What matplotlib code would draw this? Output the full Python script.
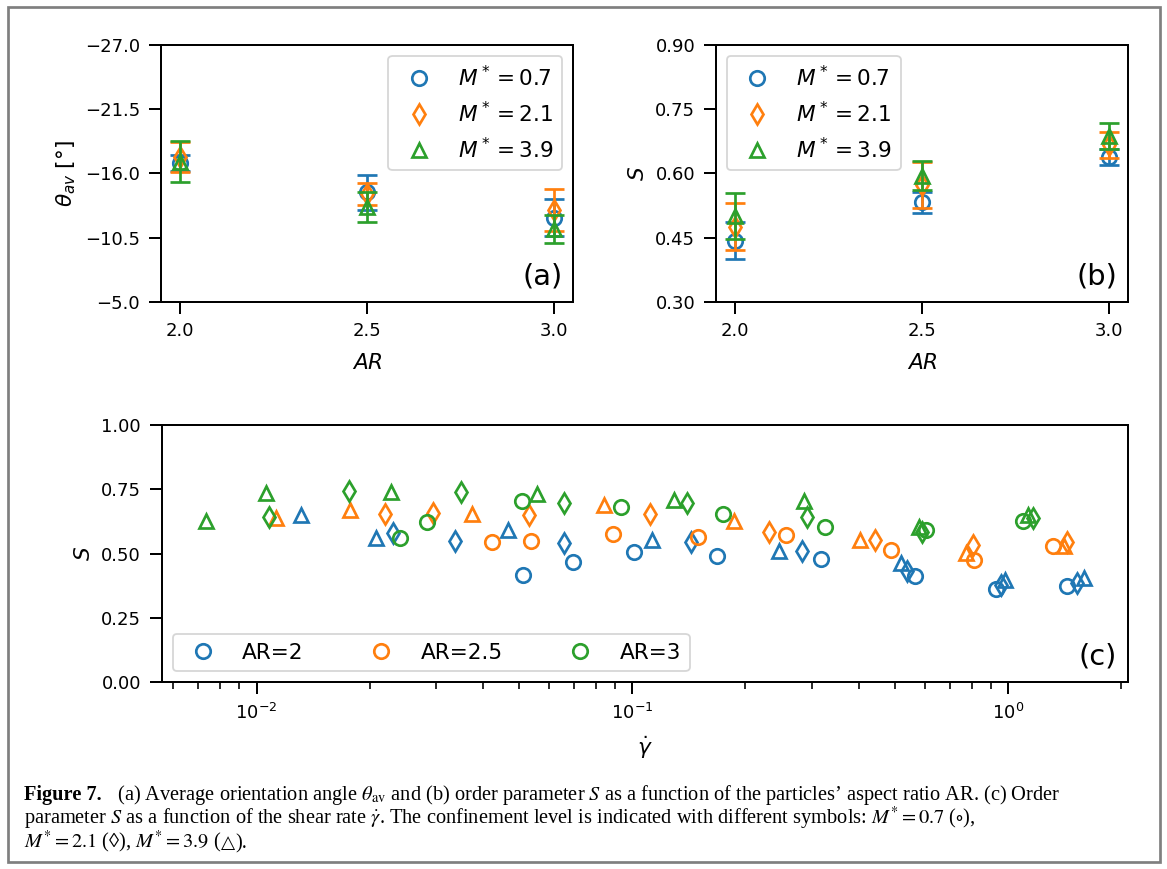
import matplotlib
matplotlib.use("Agg")
import matplotlib.pyplot as plt
from matplotlib.patches import Rectangle

# ---- data ----
ar = [2.0, 2.5, 3.0]
m_labels = [r"$M^*=0.7$", r"$M^*=2.1$", r"$M^*=3.9$"]
markers = ["o", "d", "^"]
colors = ["#1f77b4", "#ff7f0e", "#2ca02c"]

# (a) average orientation angle
theta_m07 = [-16.9, -14.4, -12.2]
theta_m21 = [-17.4, -14.2, -12.85]
theta_m39 = [-17.0, -13.1, -11.2]
theta_err_m07 = [0.7, 1.5, 1.6]
theta_err_m21 = [1.3, 0.95, 1.8]
theta_err_m39 = [1.75, 1.3, 1.2]

# (b) order parameter vs AR
s_m07 = [0.443, 0.532, 0.638]
s_m21 = [0.475, 0.573, 0.666]
s_m39 = [0.500, 0.594, 0.687]
s_err_m07 = [0.043, 0.024, 0.018]
s_err_m21 = [0.055, 0.054, 0.031]
s_err_m39 = [0.053, 0.034, 0.031]

# (c) order parameter vs shear rate, per AR and confinement
gd_ar2_m07 = [0.0511, 0.0695, 0.101, 0.168, 0.318, 0.564, 0.927, 1.438]
s_ar2_m07 = [0.418, 0.466, 0.505, 0.489, 0.479, 0.412, 0.361, 0.374]
gd_ar2_m21 = [0.0231, 0.0337, 0.0658, 0.1436, 0.2835, 0.537, 0.956, 1.529]
s_ar2_m21 = [0.582, 0.551, 0.541, 0.547, 0.509, 0.431, 0.380, 0.387]
gd_ar2_m39 = [0.0131, 0.0208, 0.0467, 0.113, 0.2456, 0.518, 0.979, 1.592]
s_ar2_m39 = [0.651, 0.561, 0.593, 0.554, 0.509, 0.464, 0.399, 0.406]

gd_ar25_m07 = [0.0422, 0.0538, 0.0888, 0.1495, 0.256, 0.489, 0.811, 1.312]
s_ar25_m07 = [0.545, 0.550, 0.576, 0.563, 0.573, 0.515, 0.477, 0.528]
gd_ar25_m21 = [0.0220, 0.0294, 0.0531, 0.1111, 0.2312, 0.4416, 0.8085, 1.438]
s_ar25_m21 = [0.655, 0.657, 0.651, 0.655, 0.586, 0.554, 0.535, 0.547]
gd_ar25_m39 = [0.0113, 0.0177, 0.0375, 0.084, 0.1864, 0.4036, 0.7745, 1.409]
s_ar25_m39 = [0.638, 0.670, 0.655, 0.689, 0.625, 0.554, 0.503, 0.528]

gd_ar3_m07 = [0.0241, 0.0284, 0.0509, 0.0931, 0.1738, 0.325, 0.6035, 1.098]
s_ar3_m07 = [0.561, 0.624, 0.705, 0.680, 0.655, 0.602, 0.590, 0.625]
gd_ar3_m21 = [0.0108, 0.0176, 0.0349, 0.0658, 0.1396, 0.2923, 0.588, 1.165]
s_ar3_m21 = [0.642, 0.745, 0.738, 0.696, 0.696, 0.644, 0.586, 0.638]
gd_ar3_m39 = [0.00732, 0.01057, 0.02286, 0.0556, 0.129, 0.2858, 0.579, 1.126]
s_ar3_m39 = [0.625, 0.735, 0.738, 0.731, 0.709, 0.705, 0.605, 0.651]

ar_labels = ["AR=2", "AR=2.5", "AR=3"]

plt.rcParams["mathtext.fontset"] = "dejavusans"
plt.rcParams["axes.linewidth"] = 1.1

W, H = 1167, 869
fig = plt.figure(figsize=(W / 130, H / 130), dpi=130)

ax_a = fig.add_axes([161 / W, 1 - 301.7 / H, 412 / W, 256.7 / H])
ax_b = fig.add_axes([716 / W, 1 - 301.7 / H, 412 / W, 256.7 / H])
ax_c = fig.add_axes([161.7 / W, 1 - 682.3 / H, 966.3 / W, 257.3 / H])

kw = dict(ls="none", ms=8, mew=1.5, mfc="none")
ekw = dict(fmt="none", capsize=5.5, elinewidth=1.5, capthick=1.5)

# (a)
theta_vals = [theta_m07, theta_m21, theta_m39]
theta_errs = [theta_err_m07, theta_err_m21, theta_err_m39]
for vals, errs, mk, c, lab in zip(theta_vals, theta_errs, markers, colors, m_labels):
    ax_a.errorbar(ar, vals, yerr=errs, ecolor=c, **ekw)
    ax_a.plot(ar, vals, marker=mk, color=c, mec=c, label=lab, **kw)
ax_a.set_ylim(-5, -27)
ax_a.set_yticks([-27.0, -21.5, -16.0, -10.5, -5.0])
ax_a.set_yticklabels(["\u221227.0", "\u221221.5", "\u221216.0", "\u221210.5", "\u22125.0"])
ax_a.set_ylabel(r"$\theta_{av}$ [°]", fontsize=12)
ax_a.legend(loc="upper right", fontsize=12)
ax_a.text(0.975, 0.045, "(a)", transform=ax_a.transAxes, ha="right", va="bottom", fontsize=16)

# (b)
s_vals = [s_m07, s_m21, s_m39]
s_errs = [s_err_m07, s_err_m21, s_err_m39]
for vals, errs, mk, c, lab in zip(s_vals, s_errs, markers, colors, m_labels):
    ax_b.errorbar(ar, vals, yerr=errs, ecolor=c, **ekw)
    ax_b.plot(ar, vals, marker=mk, color=c, mec=c, label=lab, **kw)
ax_b.set_ylim(0.30, 0.90)
ax_b.set_yticks([0.30, 0.45, 0.60, 0.75, 0.90])
ax_b.set_ylabel(r"$S$", fontsize=12)
ax_b.legend(loc="upper left", fontsize=12)
ax_b.text(0.975, 0.045, "(b)", transform=ax_b.transAxes, ha="right", va="bottom", fontsize=16)

for ax in (ax_a, ax_b):
    ax.set_xticks(ar)
    ax.set_xticklabels(["2.0", "2.5", "3.0"])
    ax.set_xlabel(r"$AR$", fontsize=12, labelpad=7)

# (c)
series_c = [
    [(gd_ar2_m07, s_ar2_m07), (gd_ar2_m21, s_ar2_m21), (gd_ar2_m39, s_ar2_m39)],
    [(gd_ar25_m07, s_ar25_m07), (gd_ar25_m21, s_ar25_m21), (gd_ar25_m39, s_ar25_m39)],
    [(gd_ar3_m07, s_ar3_m07), (gd_ar3_m21, s_ar3_m21), (gd_ar3_m39, s_ar3_m39)],
]
for group, c, lab in zip(series_c, colors, ar_labels):
    for (x, y), mk in zip(group, markers):
        ax_c.plot(x, y, marker=mk, color=c, mec=c,
                  label=lab if mk == "o" else None, **kw)
ax_c.set_xscale("log")
ax_c.set_ylim(0, 1)
ax_c.set_yticks([0.0, 0.25, 0.5, 0.75, 1.0])
ax_c.set_yticklabels(["0.00", "0.25", "0.50", "0.75", "1.00"])
ax_c.set_ylabel(r"$S$", fontsize=12)
ax_c.set_xlabel(r"$\dot{\gamma}$", fontsize=12, labelpad=6)
ax_c.legend(loc="lower left", ncol=3, fontsize=12, columnspacing=2.6)
ax_c.text(0.988, 0.045, "(c)", transform=ax_c.transAxes, ha="right", va="bottom", fontsize=16)

for ax in (ax_a, ax_b, ax_c):
    ax.tick_params(which="major", length=6.5, width=1.1, pad=5, labelsize=10)
    ax.tick_params(which="minor", length=3.8, width=0.9)

# frame and caption
fig.add_artist(Rectangle((8 / W, 1 - 862 / H), 1152 / W, 855 / H, transform=fig.transFigure,
                         fill=False, ec="#7f7f7f", lw=1.5))

cap_size = 11.3
cap_kw = dict(family="Liberation Serif", fontsize=cap_size, va="baseline", ha="left",
              math_fontfamily="stix")


def caption_line(y_px, pieces):
    # pieces: list of (text, extra kwargs); placed one after another
    x = 24.0
    for s, extra in pieces:
        opts = dict(cap_kw)
        opts.update(extra)
        t = fig.text(x / W, 1 - y_px / H, s, **opts)
        fig.canvas.draw()
        x = t.get_window_extent().x1 + extra.get("gap", 0)


caption_line(800, [
    ("Figure 7.", {"weight": "bold"}),
    ("   (a) Average orientation angle $\\theta_{\\mathrm{av}}$ and (b) order parameter $S$ as a "
     "function of the particles\u2019 aspect ratio AR. (c) Order", {}),
])
caption_line(824, [
    ("parameter $S$ as a function of the shear rate $\\dot{\\gamma}$. The confinement level is "
     "indicated with different symbols: $M^{*}=0.7$ ($\\circ$),", {}),
])
caption_line(848, [
    ("$M^{*}=2.1$ (\u25ca), $M^{*}=3.9$ (", {}),
    ("\u25b3", {"family": "DejaVu Sans", "fontsize": cap_size * 0.9}),
    (").", {}),
])

fig.savefig("out.png", dpi=130)
